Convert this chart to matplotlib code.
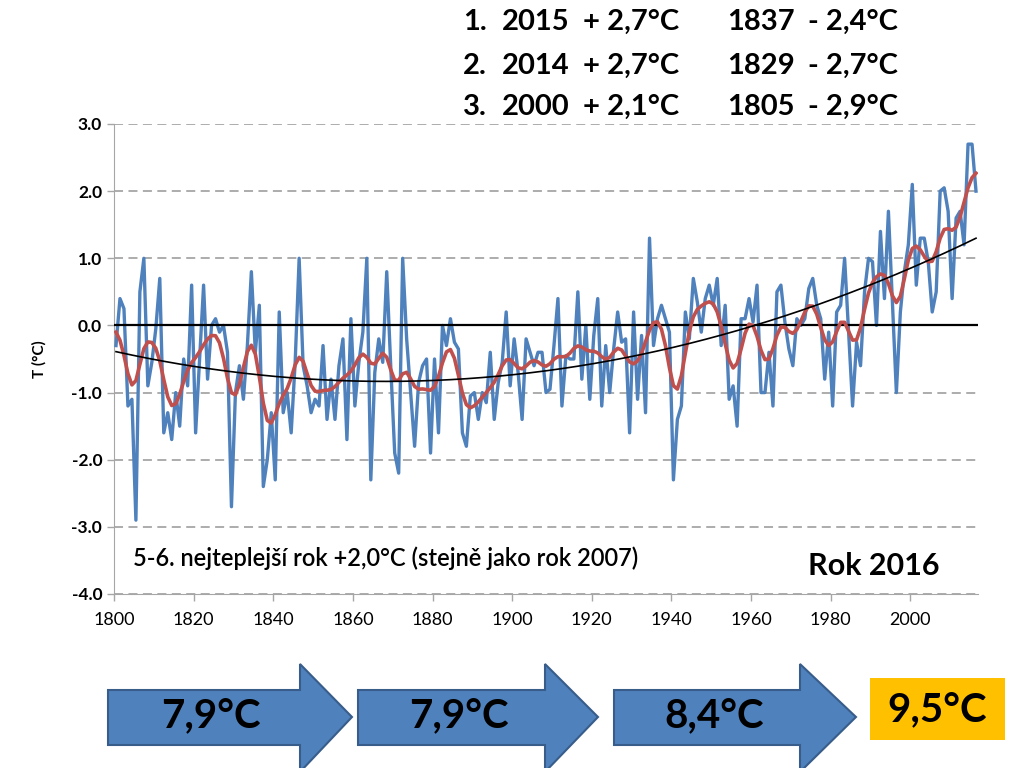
import numpy as np
import matplotlib.pyplot as plt
from matplotlib.patches import Polygon, Rectangle

plt.rcParams['font.family'] = ['Lato', 'DejaVu Sans']

# annual temperature anomaly (°C), 1800-2016
years = np.arange(1800, 2017)
anomaly = [
    -0.3, 0.4, 0.25, -1.2, -1.1, -2.9, 0.5, 1.0, -0.9, -0.55,      # 1800
    -0.05, 0.7, -1.6, -1.3, -1.7, -1.0, -1.5, -0.5, -0.9, 0.6,     # 1810
    -1.6, -0.5, 0.6, -0.8, 0.0, 0.1, -0.1, 0.0, -0.4, -2.7,        # 1820
    -1.0, -0.6, -1.1, -0.3, 0.8, -0.4, 0.3, -2.4, -2.0, -1.3,      # 1830
    -2.3, 0.2, -1.3, -1.0, -1.6, -0.55, 1.0, -0.6, -0.9, -1.3,     # 1840
    -1.1, -1.2, -0.3, -1.4, -0.8, -1.4, -0.6, -0.2, -1.7, 0.1,     # 1850
    -1.2, -0.55, -0.1, 1.0, -2.3, -0.7, -0.2, -0.55, 0.8, -0.6,    # 1860
    -1.9, -2.2, 1.0, -0.2, -1.0, -1.8, -0.85, -0.6, -0.5, -1.9,    # 1870
    -0.5, -1.6, 0.0, -0.3, 0.1, -0.25, -0.35, -1.6, -1.8, -1.05,   # 1880
    -1.0, -1.4, -1.0, -1.15, -0.4, -1.4, -0.85, -0.55, 0.2, -0.9,  # 1890
    -0.2, -0.7, -1.4, -0.2, -0.4, -0.6, -0.4, -0.4, -1.0, -0.95,   # 1900
    -0.3, 0.4, -1.2, -0.45, -0.5, -0.5, 0.5, -0.8, 0.0, -1.1,      # 1910
    -0.15, 0.4, -1.2, -0.3, -1.0, -0.35, 0.2, -0.25, -0.2, -1.6,   # 1920
    0.2, -1.1, -0.15, -1.3, 1.3, -0.3, 0.1, 0.3, 0.1, -0.1,        # 1930
    -2.3, -1.4, -1.2, 0.2, -0.2, 0.7, 0.35, -0.1, 0.4, 0.6,        # 1940
    0.3, 0.7, -0.3, 0.3, -1.1, -0.9, -1.5, 0.1, 0.1, 0.4,          # 1950
    0.05, 0.6, -1.0, -1.0, -0.4, -1.2, 0.5, 0.6, 0.05, -0.35,      # 1960
    -0.6, 0.1, 0.0, 0.1, 0.55, 0.7, 0.3, 0.1, -0.8, -0.1,          # 1970
    -1.2, 0.2, 0.3, 1.0, -0.1, -1.2, -0.25, -0.6, 0.5, 1.0,        # 1980
    0.95, 0.0, 1.4, 0.4, 1.7, 0.35, -1.0, 0.2, 0.8, 1.2,           # 1990
    2.1, 0.6, 1.3, 1.3, 0.95, 0.2, 0.5, 2.0, 2.05, 1.7,            # 2000
    0.4, 1.6, 1.7, 1.2, 2.7, 2.7, 2.0,                             # 2010
]
anomaly = np.array(anomaly)

tick_years = [1800, 1820, 1840, 1860, 1880, 1900, 1920, 1940, 1960, 1980, 2000]
y_ticks = [3.0, 2.0, 1.0, 0.0, -1.0, -2.0, -3.0, -4.0]

warm_rank = [('1.', '2015', '+ 2,7°C'), ('2.', '2014', '+ 2,7°C'), ('3.', '2000', '+ 2,1°C')]
cold_rank = [('1837', '- 2,4°C'), ('1829', '- 2,7°C'), ('1805', '- 2,9°C')]
period_means = ['7,9°C', '7,9°C', '8,4°C', '9,5°C']

# smoothed curve (gaussian filter, renormalised at the edges) and quadratic trend
k = np.arange(-8, 9)
w = np.exp(-0.5 * (k / 1.8) ** 2)
smooth = []
for i in range(len(anomaly)):
    idx = i + k
    ok = (idx >= 0) & (idx < len(anomaly))
    smooth.append(np.sum(anomaly[idx[ok]] * w[ok]) / np.sum(w[ok]))
smooth = np.array(smooth)
coef = np.polyfit(years - 1800, anomaly, 2)
trend = np.polyval(coef, years - 1800)

W, H = 1024, 768
fig = plt.figure(figsize=(W / 100, H / 100), dpi=100)
ax = fig.add_axes([114 / W, 1 - 594 / H, 864 / W, 470 / H])

ax.plot(years, anomaly, color='#4f81bd', lw=2.4, zorder=3)
ax.axhline(0, color='black', lw=1.6, zorder=4)
ax.plot(years, smooth, color='#c0504d', lw=2.6, zorder=5)
ax.plot(years, trend, color='black', lw=1.2, zorder=6)

ax.set_xlim(1799.5, 2016.5)
ax.set_ylim(-4, 3)
ax.set_yticks(y_ticks)
ax.set_yticklabels([f'{v:.1f}' for v in y_ticks], fontweight='bold', fontsize=12.5)
ax.set_xticks([t - 0.5 for t in tick_years])
ax.set_xticklabels([str(t) for t in tick_years], fontsize=13)
ax.grid(axis='y', color='#a6a6a6', ls=(0, (5, 3)), lw=1.3)
ax.tick_params(axis='both', color='#a6a6a6', length=5, width=1)
ax.tick_params(axis='x', pad=8)
for s in ['top', 'right']:
    ax.spines[s].set_visible(False)
for s in ['left', 'bottom']:
    ax.spines[s].set_color('#a6a6a6')
ax.set_ylabel('T (°C)', fontweight='bold', fontsize=11, labelpad=18)

ax.text(0.022, 0.077, '5-6. nejteplejší rok +2,0°C (stejně jako rok 2007)',
        transform=ax.transAxes, fontsize=17, fontweight='semibold', va='center')
ax.text(0.956, 0.06, 'Rok 2016', transform=ax.transAxes, fontsize=22,
        fontweight='bold', ha='right', va='center')

# overlay in pixel coordinates for the header and the arrows
ov = fig.add_axes([0, 0, 1, 1])
ov.set_xlim(0, W)
ov.set_ylim(H, 0)
ov.axis('off')

row_y = [22, 66, 107]
for (n, yr, val), (cyr, cval), ry in zip(warm_rank, cold_rank, row_y):
    ov.text(463, ry, n, fontsize=21, fontweight='bold', va='center')
    ov.text(502, ry, yr, fontsize=21, fontweight='bold', va='center')
    ov.text(583, ry, val, fontsize=21, fontweight='bold', va='center')
    ov.text(727, ry, cyr, fontsize=21, fontweight='bold', va='center')
    ov.text(808, ry, cval, fontsize=21, fontweight='bold', va='center')

arrows = [(108, 300, 352), (358, 545, 598), (614, 800, 856)]
for (x0, x1, tip), lab in zip(arrows, period_means[:3]):
    pts = [(x0, 690), (x1, 690), (x1, 664), (tip, 717), (x1, 772), (x1, 745), (x0, 745)]
    ov.add_patch(Polygon(pts, closed=True, fc='#4f81bd', ec='#385d8a', lw=1.5))
    ov.text((x0 + x1) / 2 + 7, 716, lab, fontsize=29, fontweight='bold',
            ha='center', va='center')
ov.add_patch(Rectangle((870, 678), 135, 62, fc='#ffc000', ec='none'))
ov.text(937, 710, period_means[3], fontsize=29, fontweight='bold', ha='center', va='center')

fig.savefig('out.png', dpi=100)
